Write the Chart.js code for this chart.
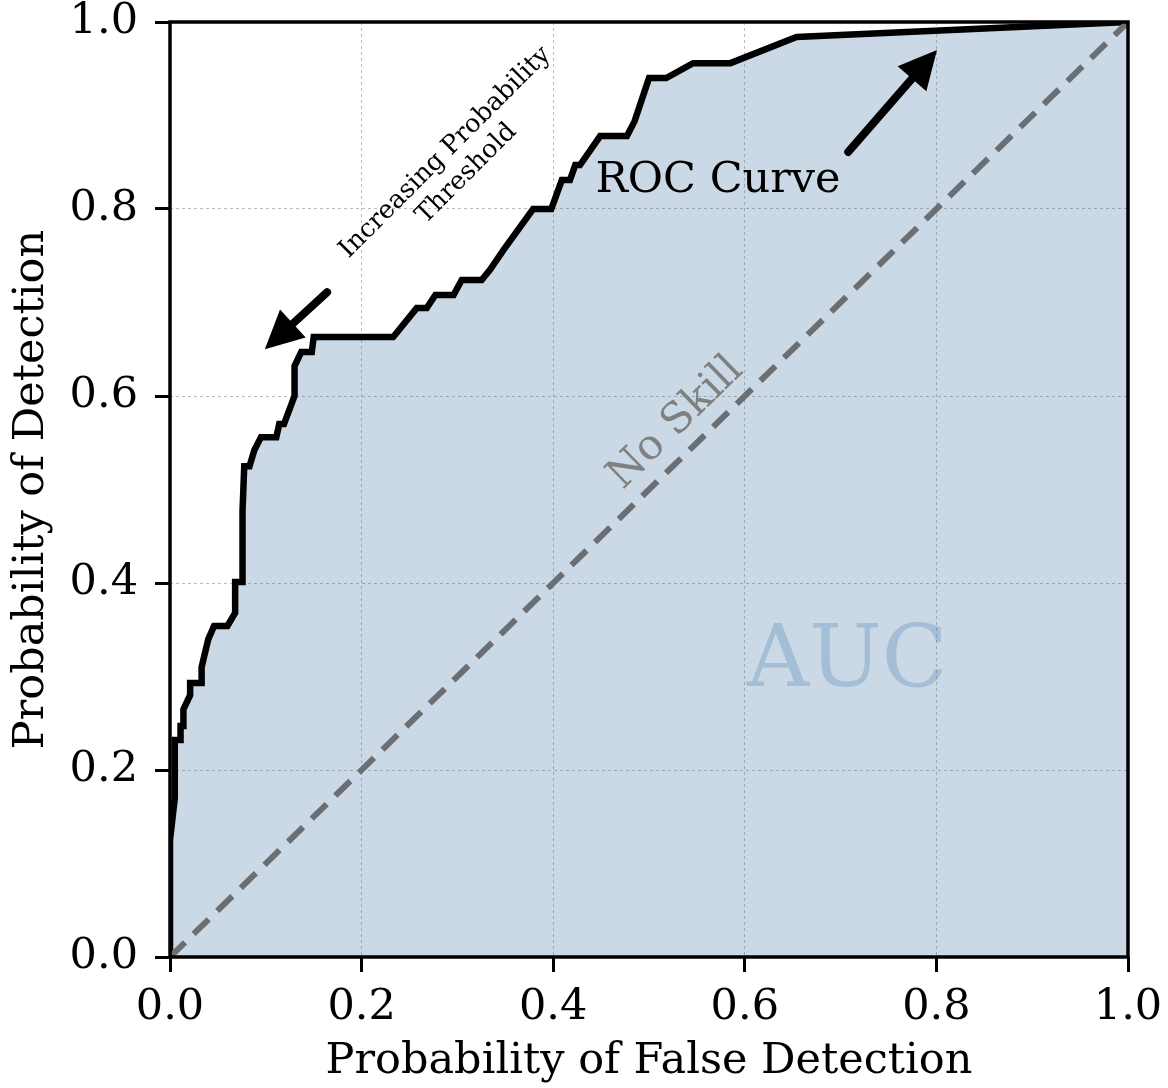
<!DOCTYPE html>
<html>
<head>
<meta charset="utf-8">
<script src="https://cdn.jsdelivr.net/npm/chart.js@4.4.1/dist/chart.umd.min.js"></script>
<style>
  html, body { margin: 0; padding: 0; background: #fff; }
  #roc { display: block; }
</style>
</head>
<body>
<canvas id="roc" width="1168" height="1088"></canvas>
<script>
// ROC curve points
const pofd = [0, 0, 0.005, 0.005, 0.011, 0.011, 0.014, 0.014, 0.021, 0.021, 0.033, 0.033,
  0.040, 0.046, 0.060, 0.068, 0.068, 0.0757, 0.0757, 0.0775, 0.083, 0.088, 0.095, 0.111,
  0.114, 0.119, 0.130, 0.130, 0.137, 0.148, 0.150, 0.233, 0.2575, 0.268, 0.277, 0.296,
  0.3045, 0.3253, 0.334, 0.348, 0.379, 0.398, 0.409, 0.4175, 0.423, 0.428, 0.449, 0.477,
  0.485, 0.500, 0.518, 0.546, 0.585, 0.654, 1.0];
const pod = [0, 0.125, 0.170, 0.232, 0.232, 0.247, 0.247, 0.265, 0.280, 0.293, 0.293, 0.310,
  0.340, 0.354, 0.354, 0.368, 0.401, 0.401, 0.477, 0.525, 0.525, 0.542, 0.556, 0.556,
  0.570, 0.570, 0.600, 0.632, 0.647, 0.647, 0.663, 0.663, 0.694, 0.694, 0.708, 0.708,
  0.724, 0.724, 0.735, 0.756, 0.800, 0.800, 0.831, 0.831, 0.847, 0.847, 0.878, 0.878,
  0.894, 0.940, 0.940, 0.956, 0.956, 0.984, 1.0];
const noSkill = [0, 1];
const tickValues = [0, 0.2, 0.4, 0.6, 0.8, 1.0];

const FONT = "'DejaVu Serif', serif";

function arrow(ctx, x0, y0, x1, y1) {
  const ang = Math.atan2(y1 - y0, x1 - x0);
  const headLen = 38, headW = 19;
  const bx = x1 - headLen * Math.cos(ang), by = y1 - headLen * Math.sin(ang);
  ctx.beginPath();
  ctx.moveTo(x0, y0);
  ctx.lineTo(bx, by);
  ctx.lineWidth = 8;
  ctx.lineCap = 'round';
  ctx.strokeStyle = '#000';
  ctx.stroke();
  ctx.beginPath();
  ctx.moveTo(x1, y1);
  ctx.lineTo(bx + headW * Math.sin(ang), by - headW * Math.cos(ang));
  ctx.lineTo(bx - headW * Math.sin(ang), by + headW * Math.cos(ang));
  ctx.closePath();
  ctx.fillStyle = '#000';
  ctx.fill();
}

// frame, arrows and text labels
const rocNotes = {
  id: 'rocNotes',
  afterDatasetsDraw(chart) {
    const { ctx, chartArea: a, scales: { x, y } } = chart;
    ctx.save();
    ctx.strokeStyle = '#000';
    ctx.lineWidth = 3.5;
    ctx.strokeRect(a.left, a.top, a.right - a.left, a.bottom - a.top);

    arrow(ctx, x.getPixelForValue(0.708), y.getPixelForValue(0.861),
               x.getPixelForValue(0.8006), y.getPixelForValue(0.970));
    arrow(ctx, x.getPixelForValue(0.164), y.getPixelForValue(0.711),
               x.getPixelForValue(0.099), y.getPixelForValue(0.650));

    ctx.textAlign = 'center';
    ctx.textBaseline = 'middle';

    ctx.fillStyle = '#000';
    ctx.font = '43px ' + FONT;
    ctx.fillText('ROC Curve', x.getPixelForValue(0.572), y.getPixelForValue(0.830));

    ctx.fillStyle = 'rgba(70,130,180,0.3)';
    ctx.font = '86px ' + FONT;
    ctx.fillText('AUC', x.getPixelForValue(0.707), y.getPixelForValue(0.314));

    // No Skill follows the diagonal
    const diag = Math.atan2(y.getPixelForValue(0) - y.getPixelForValue(1),
                            x.getPixelForValue(1) - x.getPixelForValue(0));
    ctx.save();
    ctx.translate(x.getPixelForValue(0.528), y.getPixelForValue(0.571));
    ctx.rotate(-diag);
    ctx.fillStyle = '#808080';
    ctx.font = '42px ' + FONT;
    ctx.fillText('No Skill', 0, 0);
    ctx.restore();

    ctx.save();
    ctx.translate(x.getPixelForValue(0.2985), y.getPixelForValue(0.849));
    ctx.rotate(-Math.PI / 4);
    ctx.fillStyle = '#000';
    ctx.font = '25.5px ' + FONT;
    ctx.fillText('Increasing Probability', 0, -15);
    ctx.fillText('Threshold', 0, 15);
    ctx.restore();

    ctx.restore();
  }
};

const axisCommon = {
  type: 'linear',
  min: 0,
  max: 1,
  afterBuildTicks: s => { s.ticks = tickValues.map(v => ({ value: v })); },
  grid: {
    color: 'rgba(160,160,160,0.7)',
    lineWidth: 1,
    drawTicks: true,
    tickLength: 15,
    tickColor: '#000',
    tickWidth: 3,
    tickBorderDash: []
  },
  border: { display: false, dash: [3, 3] },
  ticks: {
    color: '#000',
    font: { family: FONT, size: 43 },
    callback: v => v.toFixed(1)
  }
};

const titleFont = { family: FONT, size: 43, lineHeight: 1.2 };

new Chart(document.getElementById('roc'), {
  type: 'line',
  data: {
    datasets: [
      {
        label: 'No Skill',
        data: noSkill.map((v, i) => ({ x: v, y: noSkill[i] })),
        borderColor: '#6b6e72',
        borderWidth: 6,
        borderDash: [21, 12],
        pointRadius: 0,
        fill: false
      },
      {
        label: 'ROC Curve',
        data: pofd.map((v, i) => ({ x: v, y: pod[i] })),
        borderColor: '#000',
        borderWidth: 6.5,
        backgroundColor: 'rgba(47,99,151,0.25)',
        fill: 'origin',
        pointRadius: 0,
        tension: 0,
        borderJoinStyle: 'miter'
      }
    ]
  },
  options: {
    responsive: false,
    animation: false,
    devicePixelRatio: 1,
    layout: { padding: { top: 22, right: 40, left: 0, bottom: 0 } },
    plugins: {
      legend: { display: false },
      tooltip: { enabled: false }
    },
    scales: {
      x: Object.assign({}, axisCommon, {
        position: 'bottom',
        afterFit: s => { s.height = 131; s.paddingLeft = 0; s.paddingRight = 0; },
        ticks: Object.assign({}, axisCommon.ticks, { padding: 10, maxRotation: 0 }),
        title: {
          display: true,
          text: 'Probability of False Detection',
          color: '#000',
          font: titleFont,
          padding: { top: 0, bottom: 0 }
        }
      }),
      y: Object.assign({}, axisCommon, {
        position: 'left',
        afterFit: s => { s.width = 170; s.paddingTop = 0; s.paddingBottom = 0; },
        ticks: Object.assign({}, axisCommon.ticks, { padding: 17 }),
        title: {
          display: true,
          text: 'Probability of Detection',
          color: '#000',
          font: titleFont,
          padding: { top: 6, bottom: 0 }
        }
      })
    }
  },
  plugins: [rocNotes]
});
</script>
</body>
</html>
